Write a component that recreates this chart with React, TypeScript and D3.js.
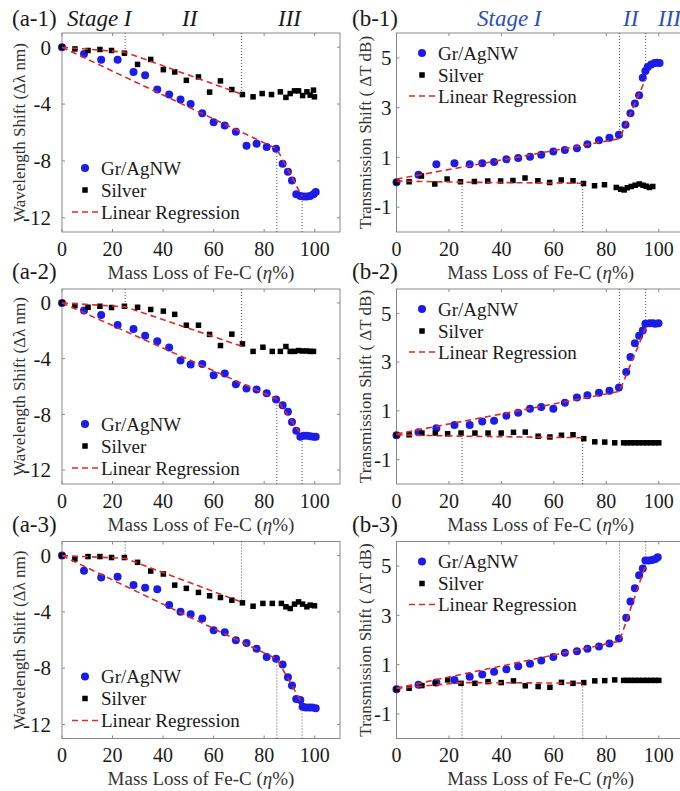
import React from "react";
import * as d3 from "d3";

// tick values
const xTicks = [0, 20, 40, 60, 80, 100];
const waveTicks = [0, -4, -8, -12];
const transTicks = [-1, 1, 3, 5];
const stageLines = [25, 71, 85, 95];

// (a-1) wavelength shift
const a1Gr = [[0,0],[8.7,-0.47],[15.5,-0.88],[22,-0.88],[28.3,-1.74],[32.9,-1.98],[37.7,-2.98],[42.4,-3.33],[46.9,-3.67],[50.9,-4.0],[55.5,-4.65],[60,-5.28],[64.4,-5.51],[68.8,-5.95],[73,-6.93],[77,-6.79],[81,-7.02],[84.7,-7.14],[87.3,-8.2],[89.4,-8.77],[91,-9.37],[92.7,-10.35],[94.3,-10.47],[95.6,-10.5],[96.9,-10.5],[98.2,-10.47],[99.5,-10.35],[100.4,-10.19]];
const a1Silver = [[0,0],[5.1,-0.12],[10.3,-0.23],[15,-0.16],[19.6,-0.23],[24.7,-0.42],[29.9,-1.21],[35.1,-0.86],[40.1,-1.58],[44.6,-1.74],[49.2,-2.33],[54,-2.09],[58.4,-3.16],[62.7,-2.37],[67.2,-2.98],[71.4,-3.33],[75.6,-3.49],[79.2,-3.26],[82.9,-3.33],[86.4,-3.14],[88.6,-3.53],[90.3,-3.26],[92,-3.07],[93.6,-3.07],[95.2,-3.4],[96.9,-3.14],[98.2,-3.37],[99.5,-3.02],[99.9,-3.49]];
const a1GrFit = [[0,0],[85,-7.15],[95,-10.5]];
const a1SilverFit = [[0,0],[25,-0.35],[71,-3.3]];

// (a-2)
const a2Gr = [[0,0],[8.7,-0.54],[15.5,-0.87],[22,-1.58],[28.3,-1.88],[32.9,-2.35],[37.7,-2.75],[42.4,-3.2],[46.9,-4.14],[50.9,-4.42],[55.5,-4.38],[60,-5.2],[64.4,-5.06],[68.8,-5.84],[73,-6.14],[77,-6.21],[81,-6.49],[84.7,-6.94],[87.3,-7.34],[89.4,-7.81],[91,-8.54],[92.7,-9.18],[94.3,-9.6],[95.6,-9.53],[96.9,-9.53],[98.2,-9.57],[99.5,-9.6],[100.4,-9.6]];
const a2Silver = [[0,0],[5.1,-0.19],[10.3,-0.31],[15,-0.24],[19.6,-0.33],[24.7,-0.24],[29.9,-0.31],[35.1,-0.47],[40.1,-0.59],[44.6,-0.82],[49.2,-1.6],[54,-1.6],[58.4,-2.26],[62.7,-3.06],[67.2,-2.24],[71.4,-2.94],[75.6,-3.48],[79.5,-3.18],[83.2,-3.48],[86.4,-3.48],[88.6,-3.13],[90.3,-3.48],[92,-3.48],[93.6,-3.42],[95.2,-3.45],[96.9,-3.45],[98.2,-3.48],[99.5,-3.48]];
const a2GrFit = [[0,0],[85,-6.9],[95,-9.55]];
const a2SilverFit = [[0,0],[25,-0.28],[71,-3.1]];

// (a-3)
const a3Gr = [[0,0],[8.7,-1.07],[15.5,-1.55],[22,-1.5],[28.3,-2.1],[32.9,-2.29],[37.7,-2.4],[42.4,-3.52],[46.9,-4.0],[50.9,-4.17],[55.5,-4.48],[60,-5.31],[64.4,-5.45],[68.8,-6.02],[73,-6.21],[77,-6.62],[81,-7.21],[84.7,-7.33],[87.3,-7.74],[89.4,-8.64],[91,-9.24],[92.7,-10.19],[94.3,-10.26],[95.2,-10.74],[96.5,-10.8],[97.8,-10.8],[99,-10.8],[100.4,-10.85]];
const a3Silver = [[0,0],[5.1,-0.24],[10.3,-0.07],[15,-0.07],[19.6,-0.14],[24.7,-0.14],[29.9,-0.48],[35.1,-1.1],[40.1,-1.31],[44.6,-2.1],[49.2,-2.33],[54,-2.62],[58.4,-2.86],[62.7,-2.98],[67.2,-3.17],[71.4,-3.36],[75.6,-3.6],[79.5,-3.4],[83.2,-3.4],[86.8,-3.4],[88.6,-3.64],[90.3,-3.76],[92,-3.45],[93.6,-3.29],[95.2,-3.45],[96.9,-3.64],[98.2,-3.52],[99.9,-3.57]];
const a3GrFit = [[0,0],[85,-7.35],[95,-10.5]];
const a3SilverFit = [[0,0],[25,-0.2],[71,-3.3]];

// (b-1) transmission shift
const b1Gr = [[0,0],[8.4,0.3],[15.2,0.72],[22.1,0.76],[27.9,0.72],[32.7,0.76],[37.2,0.81],[41.9,0.92],[46.4,0.97],[50.9,1.03],[55.2,1.11],[59.8,1.24],[64.2,1.3],[68.8,1.37],[72.8,1.53],[77.2,1.69],[81.2,1.79],[84.8,1.91],[87.3,2.31],[89.2,2.77],[90.9,3.17],[92.5,3.5],[93.9,4.2],[94.9,4.47],[95.8,4.63],[97.1,4.73],[98.4,4.79],[99.4,4.8],[100.3,4.79]];
const b1Silver = [[0,0],[4.8,0.02],[9.5,0.25],[14.6,-0.07],[19.3,0.13],[24.4,0.02],[29.7,0.03],[34.8,0.05],[39.7,0.05],[44.4,0.07],[49,0.17],[53.9,0.06],[58.4,-0.01],[62.8,0.09],[67.3,0.06],[71.3,-0.05],[75.5,-0.14],[79.3,-0.1],[83.8,-0.21],[85.5,-0.28],[86.8,-0.31],[88,-0.22],[89.5,-0.17],[91,-0.12],[92.6,-0.07],[94,-0.12],[95.2,-0.16],[96.4,-0.21],[97.7,-0.17]];
const b1GrFit = [[0,0.13],[85,1.75],[95,4.15]];
const b1SilverFit = [[0,0.05],[25,0.0],[71,-0.04]];

// (b-2)
const b2Gr = [[0,0],[8.4,0.12],[15.2,0.29],[22.1,0.42],[27.9,0.42],[32.7,0.56],[37.2,0.59],[41.9,0.8],[46.4,0.92],[50.9,1.09],[55.2,1.16],[59.8,1.09],[64.2,1.33],[68.8,1.55],[72.8,1.64],[77.2,1.74],[81.2,1.83],[84.8,1.96],[87.6,2.6],[89.2,3.21],[90.9,3.77],[92.5,4.08],[93.9,4.3],[94.9,4.57],[96.5,4.6],[97.7,4.6],[98.7,4.57],[99.9,4.6]];
const b2Silver = [[0,0],[4.8,0.02],[9.7,0.09],[14.8,0.09],[19.5,0.06],[24.6,0.09],[29.9,0.09],[34.9,0.09],[39.9,0.09],[44.6,0.12],[49.1,0.13],[54,-0.04],[58.5,-0.07],[62.9,0],[67.3,0.02],[71.4,-0.14],[75.6,-0.27],[79.4,-0.28],[83.2,-0.31],[86.6,-0.31],[88,-0.31],[89.5,-0.31],[91,-0.31],[92.5,-0.31],[94,-0.31],[95.5,-0.31],[97,-0.31],[98.5,-0.31],[100,-0.31]];
const b2GrFit = [[0,0.05],[85,1.8],[95,4.4]];
const b2SilverFit = [[0,0.02],[25,-0.04],[71,-0.1]];

// (b-3)
const b3Gr = [[0,0],[8.4,0.18],[15.2,0.27],[22.1,0.38],[27.9,0.51],[32.7,0.6],[37.2,0.71],[41.9,0.81],[46.4,0.93],[50.9,1.04],[55.2,1.17],[59.8,1.31],[64.2,1.48],[68.8,1.54],[72.8,1.64],[77.2,1.74],[81.2,1.86],[84.8,2.06],[87.6,2.9],[89.2,3.56],[90.9,4.1],[92.5,4.63],[93.9,4.9],[94.9,5.23],[96.2,5.23],[97.5,5.25],[98.7,5.29],[99.6,5.36]];
const b3Silver = [[0,0],[4.8,0.04],[9.7,0.15],[14.8,0.24],[19.5,0.38],[24.6,0.24],[29.9,0.24],[34.9,0.31],[39.9,0.27],[44.6,0.34],[49.1,0.14],[54,0.11],[58.5,0.08],[62.9,0.28],[67.3,0.24],[71.4,0.27],[75.6,0.34],[79.4,0.35],[83.2,0.38],[86.6,0.36],[88,0.36],[89.5,0.36],[91,0.36],[92.5,0.36],[94,0.36],[95.5,0.36],[97,0.36],[98.5,0.36],[100,0.36]];
const b3GrFit = [[0,0.05],[85,1.95],[95,5.05]];
const b3SilverFit = [[0,0.03],[25,0.27],[71,0.25]];

const TF = { fontFamily: '"Liberation Serif"' };
const BLUE = "#1c1ce8";
const RED = "#e0282a";
const FRAME = "#8a8a8a";
const TXT = "#1a1a1a";

const rowTop = [33, 289, 541.5];
const rowBot = [232, 484, 738.5];
const titleBase = [26, 279, 532];

function Panel({ side, row, title, gr, silver, grFit, silverFit }) {
  const isA = side === "a";
  const x0 = isA ? 62 : 396.5;
  const x1 = isA ? 340 : 685;
  const top = rowTop[row];
  const bot = rowBot[row];
  const x = d3.scaleLinear().domain([0, 110]).range([x0, x1]);
  const y = d3.scaleLinear().domain(isA ? [-13, 1] : [-2, 6]).range([bot, top]);
  const yTicks = isA ? waveTicks : transTicks;
  const line = d3.line().x(d => x(d[0])).y(d => y(d[1]));
  const fitAt = (fit, v) =>
    d3.scaleLinear().domain(fit.map(d => d[0])).range(fit.map(d => d[1]))(v);

  const mid = (top + bot) / 2;
  const legX = isA ? 85 : 422;
  const legY = isA ? [top + 135, top + 157, top + 179] : [top + 20, top + 42, top + 63];

  return (
    <g>
      {/* frame */}
      <rect x={x0} y={top} width={x1 - x0} height={bot - top} fill="none" stroke={FRAME} strokeWidth={1} />
      {xTicks.map(t => (
        <g key={"xt" + t}>
          <line x1={x(t)} x2={x(t)} y1={bot} y2={bot - 3} stroke={FRAME} />
          <line x1={x(t)} x2={x(t)} y1={top} y2={top + 3} stroke={FRAME} />
          <text x={x(t)} y={bot + 23.5} textAnchor="middle" fontSize={20} fill={TXT} style={TF}>{t}</text>
        </g>
      ))}
      {yTicks.map(t => (
        <g key={"yt" + t}>
          <line x1={x0} x2={x0 + 3} y1={y(t)} y2={y(t)} stroke={FRAME} />
          <line x1={x1} x2={x1 - 3} y1={y(t)} y2={y(t)} stroke={FRAME} />
          <text x={isA ? x0 - 11 : x0 - 5} y={y(t)} dy="0.35em" textAnchor="end" fontSize={21} fill={TXT} style={TF}>{t}</text>
        </g>
      ))}

      {/* stage boundaries */}
      {stageLines.map((v, i) => {
        const onSilver = i < 2;
        const yv = y(fitAt(onSilver ? silverFit : grFit, v));
        const fromTop = isA ? onSilver : !onSilver;
        return (
          <line key={"st" + v} x1={x(v)} x2={x(v)} y1={fromTop ? top : bot} y2={yv}
            stroke="#555" strokeWidth={1} strokeDasharray="1,2" />
        );
      })}

      {/* data */}
      {gr.map((d, i) => (
        <circle key={"g" + i} cx={x(d[0])} cy={y(d[1])} r={4} fill={BLUE} />
      ))}
      {silver.map((d, i) => (
        <rect key={"s" + i} x={x(d[0]) - 2.75} y={y(d[1]) - 2.75} width={5.5} height={5.5} fill="#000" />
      ))}
      <path d={line(grFit)} fill="none" stroke={RED} strokeWidth={1.6} strokeDasharray="6,4" />
      <path d={line(silverFit)} fill="none" stroke={RED} strokeWidth={1.6} strokeDasharray="6,4" />

      {/* legend */}
      <circle cx={legX} cy={legY[0]} r={4} fill={BLUE} />
      <text x={legX + 16} y={legY[0]} dy="0.35em" fontSize={19} fill={TXT} style={TF}>Gr/AgNW</text>
      <rect x={legX - 2.75} y={legY[1] - 2.75} width={5.5} height={5.5} fill="#000" />
      <text x={legX + 16} y={legY[1]} dy="0.35em" fontSize={19} fill={TXT} style={TF}>Silver</text>
      <line x1={legX - 13} x2={legX + 15} y1={legY[2]} y2={legY[2]} stroke={RED} strokeWidth={1.6} strokeDasharray="6,4" />
      <text x={legX + 16} y={legY[2]} dy="0.35em" fontSize={19} fill={TXT} style={TF}>Linear Regression</text>

      {/* labels */}
      <text x={isA ? 12 : 352} y={titleBase[row]} fontSize={23} fill={TXT} style={TF}>{title}</text>
      <text x={(x0 + x1) / 2} y={bot + 46.5} textAnchor="middle" fontSize={19} fill="#333" style={TF}>
        Mass Loss of Fe-C (<tspan fontStyle="italic">η</tspan>%)
      </text>
      <text transform={`translate(${isA ? 25 : 371},${mid}) rotate(-90)`} textAnchor="middle" fontSize={17} fill="#333" style={TF}>
        {isA ? "Wavelength Shift (Δλ nm)" : "Transmission Shift ( ΔT dB)"}
      </text>
    </g>
  );
}

export default function App() {
  return (
    <svg width={680} height={791} style={{ position: "absolute", left: 0, top: 0, display: "block" }}>
      <rect width={680} height={791} fill="#fff" />
      <Panel side="a" row={0} title="(a-1)" gr={a1Gr} silver={a1Silver} grFit={a1GrFit} silverFit={a1SilverFit} />
      <Panel side="a" row={1} title="(a-2)" gr={a2Gr} silver={a2Silver} grFit={a2GrFit} silverFit={a2SilverFit} />
      <Panel side="a" row={2} title="(a-3)" gr={a3Gr} silver={a3Silver} grFit={a3GrFit} silverFit={a3SilverFit} />
      <Panel side="b" row={0} title="(b-1)" gr={b1Gr} silver={b1Silver} grFit={b1GrFit} silverFit={b1SilverFit} />
      <Panel side="b" row={1} title="(b-2)" gr={b2Gr} silver={b2Silver} grFit={b2GrFit} silverFit={b2SilverFit} />
      <Panel side="b" row={2} title="(b-3)" gr={b3Gr} silver={b3Silver} grFit={b3GrFit} silverFit={b3SilverFit} />
      {/* stage labels */}
      <g fontStyle="italic" fontSize={23}>
        <text x={67} y={26} fill={TXT} style={TF}>Stage I</text>
        <text x={182} y={26} fill={TXT} style={TF}>II</text>
        <text x={278} y={26} fill={TXT} style={TF}>III</text>
        <text x={477} y={26} fill="#2c4fb8" style={TF}>Stage I</text>
        <text x={623} y={26} fill="#2c4fb8" style={TF}>II</text>
        <text x={658} y={26} fill="#2c4fb8" style={TF}>III</text>
      </g>
    </svg>
  );
}
